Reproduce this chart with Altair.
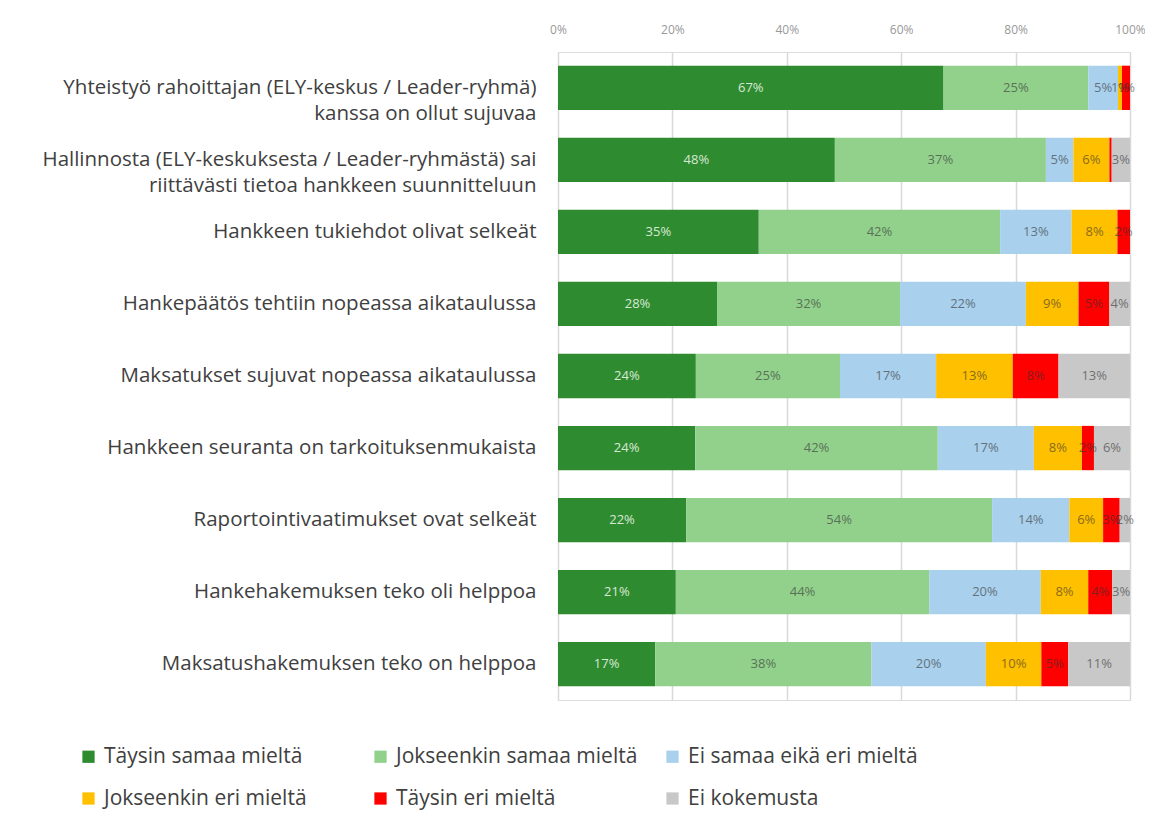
import altair as alt
import pandas as pd

questions = [
    "Yhteistyö rahoittajan (ELY-keskus / Leader-ryhmä)|kanssa on ollut sujuvaa",
    "Hallinnosta (ELY-keskuksesta / Leader-ryhmästä) sai|riittävästi tietoa hankkeen suunnitteluun",
    "Hankkeen tukiehdot olivat selkeät",
    "Hankepäätös tehtiin nopeassa aikataulussa",
    "Maksatukset sujuvat nopeassa aikataulussa",
    "Hankkeen seuranta on tarkoituksenmukaista",
    "Raportointivaatimukset ovat selkeät",
    "Hankehakemuksen teko oli helppoa",
    "Maksatushakemuksen teko on helppoa",
]

categories = [
    "Täysin samaa mieltä",
    "Jokseenkin samaa mieltä",
    "Ei samaa eikä eri mieltä",
    "Jokseenkin eri mieltä",
    "Täysin eri mieltä",
    "Ei kokemusta",
]
colors = ["#2E8B30", "#92D18C", "#A9D0EC", "#FFC000", "#FF0000", "#C8C8C8"]

taysin_samaa = [67.4, 48.4, 35.1, 27.8, 24.1, 24.0, 22.4, 20.6, 17.0]
jokseenkin_samaa = [25.3, 36.9, 42.2, 32.0, 25.2, 42.4, 53.5, 44.3, 37.8]
ei_samaa_eika_eri = [5.2, 4.8, 12.5, 22.0, 16.8, 16.8, 13.5, 19.5, 20.0]
jokseenkin_eri = [0.7, 6.3, 8.0, 9.2, 13.4, 8.4, 5.9, 8.3, 9.7]
taysin_eri = [1.4, 0.4, 2.2, 5.4, 8.0, 2.1, 2.9, 4.2, 4.7]
ei_kokemusta = [0.0, 3.2, 0.0, 3.6, 12.5, 6.3, 1.8, 3.1, 10.8]

series = [taysin_samaa, jokseenkin_samaa, ei_samaa_eika_eri,
          jokseenkin_eri, taysin_eri, ei_kokemusta]

rows = []
for ci, (cat, vals) in enumerate(zip(categories, series)):
    for qi, (q, v) in enumerate(zip(questions, vals)):
        rows.append({"q": q, "cat": cat, "order": ci, "value": v / 100.0})
df = pd.DataFrame(rows)

font = "Open Sans"
text_col = "#404040"

base = alt.Chart(df).transform_stack(
    stack="value", groupby=["q"], as_=["x0", "x1"],
    sort=[alt.SortField("order", order="ascending")]
).transform_calculate(mid="(datum.x0 + datum.x1) / 2")

y_enc = alt.Y(
    "q:N", sort=questions, title=None,
    scale=alt.Scale(paddingInner=0.385, paddingOuter=0.19),
    axis=alt.Axis(
        labelExpr="split(datum.label, '|')",
        labelFontSize=20.5, labelFont=font, labelColor=text_col,
        labelLimit=600, labelPadding=22, ticks=False, domain=False,
        labelLineHeight=26,
    ),
)

bars = base.mark_bar().encode(
    x=alt.X("x0:Q", scale=alt.Scale(domain=[0, 1], nice=False),
            axis=alt.Axis(orient="top", format="%", values=[0, 0.2, 0.4, 0.6, 0.8, 1.0],
                          title=None, labelFontSize=12, labelFont=font,
                          labelColor="#999999", ticks=False, domain=False,
                          grid=True, gridColor="#D9D9D9", gridWidth=1.5,
                          labelPadding=16, labelFlush=False)),
    x2="x1:Q",
    y=y_enc,
    color=alt.Color("cat:N", sort=categories,
                    scale=alt.Scale(domain=categories, range=colors),
                    legend=alt.Legend(
                        title=None, orient="none", legendX=-480, legendY=694,
                        columns=3, direction="horizontal", symbolType="square",
                        symbolSize=150, symbolStrokeWidth=0, labelFontSize=21,
                        labelFont=font, labelColor=text_col, labelLimit=400,
                        rowPadding=20, columnPadding=24, gridAlign="all",
                        symbolOffset=0, labelOffset=5,
                    )),
    order=alt.Order("order:Q"),
)

labels = base.transform_filter("datum.value >= 0.005").mark_text(
    fontSize=13, font=font
).encode(
    x="mid:Q",
    y=alt.Y("q:N", sort=questions),
    text=alt.Text("value:Q", format=".0%"),
    color=alt.condition(alt.datum.order == 0, alt.value("#E6F4E2"), alt.value("#333333")),
    opacity=alt.condition(alt.datum.order == 0, alt.value(0.9), alt.value(0.6)),
)

chart = alt.layer(bars, labels).properties(
    width=572, height=648,
    autosize=alt.AutoSizeParams(type="none"),
    padding={"left": 550, "top": 44, "right": 15, "bottom": 114},
).configure_view(stroke=None).configure(background="white")

chart.save("out.html", embed_options={"renderer": "svg", "actions": False})
